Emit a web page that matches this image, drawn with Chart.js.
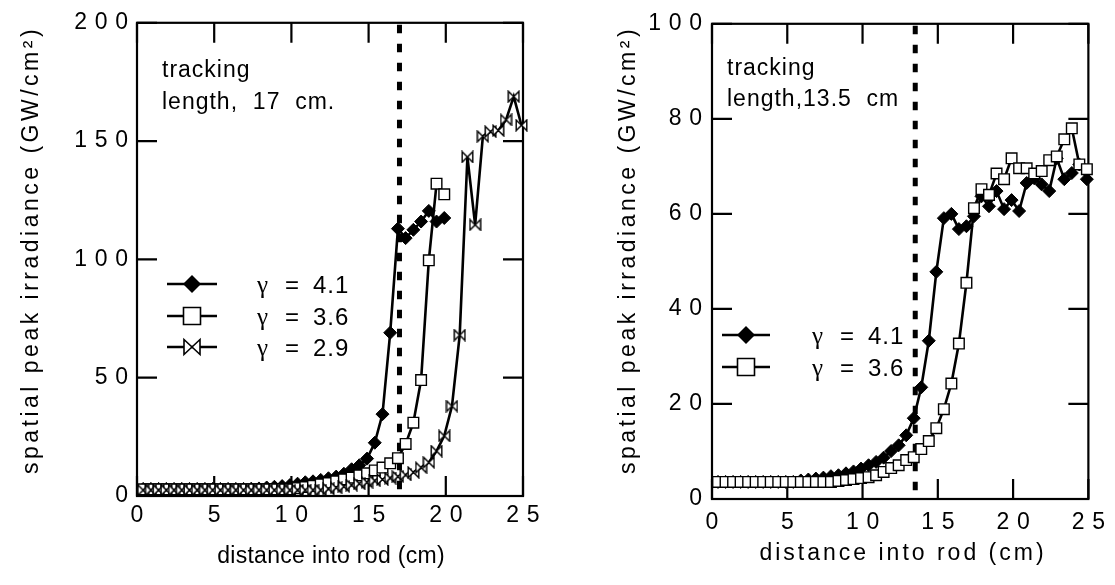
<!DOCTYPE html>
<html>
<head>
<meta charset="utf-8">
<script src="https://cdn.jsdelivr.net/npm/chart.js@4.4.1/dist/chart.umd.min.js"></script>
<style>
  html, body { margin: 0; padding: 0; background: #fff; }
  #wrap { position: relative; width: 1115px; height: 585px; overflow: hidden; }
  #cL { position: absolute; left: 0; top: 0; }
  #cR { position: absolute; left: 557px; top: 0; }
</style>
</head>
<body>
<div id="wrap">
  <canvas id="cL" width="557" height="585"></canvas>
  <canvas id="cR" width="558" height="585"></canvas>
</div>
<script>
// ---- data (distance in cm, irradiance in GW/cm^2) ----
const xTitleLabel = 'distance into rod (cm)';
const yTitleLabel = 'spatial peak irradiance (GW/cm\u00B2)';

// left panel: tracking length 17 cm
const leftX41 = [0.4,0.9,1.4,1.9,2.4,2.9,3.4,3.9,4.4,4.9,5.4,5.9,6.4,6.9,7.4,7.9,8.4,8.9,9.4,9.9,
  10.4,10.9,11.4,11.9,12.4,12.9,13.4,13.9,14.4,14.9,15.4,15.9,16.4,16.9,17.4,17.9,18.4,18.9,19.4,19.9];
const leftY41 = [3,3,3,3,3,3,3,3,3,3,3,3,3,3,3.1,3.2,3.6,3.9,4.2,4.6,
  5.2,5.8,6.2,6.8,7.5,8.2,9.4,11.3,13,15.8,22.5,34.6,69,113,109,112.5,116,120.5,116,117.5];

const leftX36 = [0.4,0.9,1.4,1.9,2.4,2.9,3.4,3.9,4.4,4.9,5.4,5.9,6.4,6.9,7.4,7.9,8.4,8.9,9.4,9.9,
  10.4,10.9,11.4,11.9,12.4,12.9,13.4,13.9,14.4,14.9,15.4,15.9,16.4,16.9,17.4,17.9,18.4,18.9,19.4,19.9];
const leftY36 = [2.8,2.8,2.8,2.8,2.8,2.8,2.8,2.8,2.8,2.8,2.8,2.8,2.8,2.8,2.8,2.8,2.8,2.8,2.8,2.8,
  3.3,3.8,4.3,4.9,5.5,6.2,7,7.8,8.7,9.6,10.8,12,13.8,16,22,31,49,99.6,132,127.5];

const leftX29 = [0.4,0.9,1.4,1.9,2.4,2.9,3.4,3.9,4.4,4.9,5.4,5.9,6.4,6.9,7.4,7.9,8.4,8.9,9.4,9.9,
  10.4,10.9,11.4,11.9,12.4,12.9,13.4,13.9,14.4,14.9,15.4,15.9,16.4,16.9,17.4,17.9,18.4,18.9,19.4,19.9,
  20.4,20.9,21.4,21.9,22.4,22.9,23.4,23.9,24.4,24.9];
const leftY29 = [2.5,2.5,2.5,2.5,2.5,2.5,2.5,2.5,2.5,2.5,2.5,2.5,2.5,2.5,2.5,2.5,2.5,2.5,2.5,2.5,
  2.5,2.5,2.5,2.5,3,3.5,4,4.6,5.2,5.8,6.4,7,7.6,8.2,8.9,10,12,14.2,19,25.4,
  38,68,143.3,114.6,152,154,154.5,159,168.8,156.7];

// right panel: tracking length 13.5 cm
const rightX41 = [0.4,0.9,1.4,1.9,2.4,2.9,3.4,3.9,4.4,4.9,5.4,5.9,6.4,6.9,7.4,7.9,8.4,8.9,9.4,9.9,
  10.4,10.9,11.4,11.9,12.4,12.9,13.4,13.9,14.4,14.9,15.4,15.9,16.4,16.9,17.4,17.9,18.4,18.9,19.4,19.9,
  20.4,20.9,21.4,21.9,22.4,22.9,23.4,23.9,24.4,24.9];
const rightY41 = [3.6,3.6,3.6,3.6,3.6,3.6,3.6,3.6,3.6,3.6,3.6,3.9,4.1,4.3,4.5,4.8,5.0,5.4,5.8,6.4,
  7.1,7.8,8.7,10.1,11.3,13.4,17,23.5,33.3,47.8,59.1,60,56.8,57.4,59.5,63.7,61.6,64.8,61,62.9,
  60.6,66.5,67.5,66.2,64.8,71.7,67.3,68.6,70.4,67.3];

const rightX36 = [0.4,0.9,1.4,1.9,2.4,2.9,3.4,3.9,4.4,4.9,5.4,5.9,6.4,6.9,7.4,7.9,8.4,8.9,9.4,9.9,
  10.4,10.9,11.4,11.9,12.4,12.9,13.4,13.9,14.4,14.9,15.4,15.9,16.4,16.9,17.4,17.9,18.4,18.9,19.4,19.9,
  20.4,20.9,21.4,21.9,22.4,22.9,23.4,23.9,24.4,24.9];
const rightY36 = [3.6,3.6,3.6,3.6,3.6,3.6,3.6,3.6,3.6,3.6,3.6,3.6,3.6,3.6,3.6,3.6,3.8,4.0,4.2,4.4,
  4.6,5.0,5.7,6.5,7.1,8.2,8.8,10.5,12.2,14.9,18.9,24.3,32.7,45.5,61.2,65.2,64,68.5,67.3,71.7,
  69.6,69.6,68.5,69,71.3,72.1,75.7,78,70.4,69.4];

const gammaLeft = ['4.1', '3.6', '2.9'];
const gammaRight = ['4.1', '3.6'];

const FONT = '"Liberation Sans", Arial, Helvetica, sans-serif';
const SERIF = '"Liberation Serif", "Times New Roman", serif';
Chart.defaults.font.family = FONT;
Chart.defaults.color = '#000';

// digits spread out like the original plot software
const spaced = v => String(v).split('').join('\u2004');
const pts = (xs, ys) => xs.map((x, i) => ({ x: x, y: ys[i] }));

function bowtieImage(size, lw) {
  const c = document.createElement('canvas');
  c.width = size; c.height = size;
  const g = c.getContext('2d');
  const m = lw / 2 + 0.5;
  g.beginPath();
  g.moveTo(m, m); g.lineTo(size - m, size - m); g.lineTo(size - m, m); g.lineTo(m, size - m);
  g.closePath();
  g.fillStyle = '#fff'; g.fill();
  g.strokeStyle = '#000'; g.lineWidth = lw; g.stroke();
  return c;
}
const bowtie = bowtieImage(13, 1.4);

function drawMarker(ctx, kind, cx, cy) {
  ctx.beginPath();
  if (kind === 'diamond') {
    const s = 9;
    ctx.moveTo(cx - s, cy); ctx.lineTo(cx, cy - s); ctx.lineTo(cx + s, cy); ctx.lineTo(cx, cy + s);
    ctx.closePath();
    ctx.fillStyle = '#000'; ctx.fill();
  } else if (kind === 'square') {
    const s = 8.5;
    ctx.rect(cx - s, cy - s, 2 * s, 2 * s);
    ctx.fillStyle = '#fff'; ctx.fill();
    ctx.lineWidth = 1.6; ctx.stroke();
  } else {
    const w = 8, h = 7.5;
    ctx.moveTo(cx - w, cy - h); ctx.lineTo(cx + w, cy + h); ctx.lineTo(cx + w, cy - h); ctx.lineTo(cx - w, cy + h);
    ctx.closePath();
    ctx.fillStyle = '#fff'; ctx.fill();
    ctx.lineWidth = 1.6; ctx.stroke();
  }
}

// frame, inner ticks on all sides, dashed tracking-length line, texts
const decor = {
  id: 'decor',
  beforeDatasetsDraw(chart, args, o) {
    const ctx = chart.ctx, a = chart.chartArea, x = chart.scales.x, y = chart.scales.y;
    ctx.save();
    ctx.strokeStyle = '#000';
    ctx.lineWidth = 5;
    ctx.setLineDash([8.5, 10.5]);
    const dx = x.getPixelForValue(o.dashAt);
    ctx.beginPath(); ctx.moveTo(dx, a.top + 2); ctx.lineTo(dx, a.bottom); ctx.stroke();
    ctx.setLineDash([]);

    ctx.lineWidth = 2.2;
    ctx.strokeRect(a.left, a.top, a.right - a.left, a.bottom - a.top);
    ctx.beginPath();
    x.ticks.forEach(t => {
      const px = x.getPixelForValue(t.value);
      ctx.moveTo(px, a.bottom); ctx.lineTo(px, a.bottom - 20);
      ctx.moveTo(px, a.top); ctx.lineTo(px, a.top + 20);
    });
    y.ticks.forEach(t => {
      const py = y.getPixelForValue(t.value);
      ctx.moveTo(a.left, py); ctx.lineTo(a.left + 20, py);
      ctx.moveTo(a.right, py); ctx.lineTo(a.right - 20, py);
    });
    ctx.stroke();
    ctx.restore();
  },
  afterDraw(chart, args, o) {
    const ctx = chart.ctx;
    ctx.save();
    ctx.fillStyle = '#000';
    ctx.strokeStyle = '#000';
    ctx.textBaseline = 'alphabetic';
    ctx.textAlign = 'left';

    ctx.letterSpacing = '1px';
    ctx.font = '23px ' + FONT;
    o.notes.forEach(n => ctx.fillText(n.text, n.x, n.y));

    // legend
    o.legend.forEach(l => {
      ctx.lineWidth = 2.6;
      ctx.beginPath(); ctx.moveTo(o.legX1, l.y); ctx.lineTo(o.legX2, l.y); ctx.stroke();
      drawMarker(ctx, l.kind, (o.legX1 + o.legX2) / 2, l.y);
      ctx.fillStyle = '#000';
      ctx.letterSpacing = '0px';
      ctx.font = '25px ' + SERIF;
      ctx.fillText('\u03B3', o.legTextX, l.y + 9);
      ctx.letterSpacing = '1px';
      ctx.font = '24px ' + FONT;
      ctx.fillText('=', o.legTextX + 28, l.y + 9);
      ctx.fillText(l.text, o.legTextX + 56, l.y + 9);
    });

    // axis titles
    ctx.letterSpacing = o.xTitle.ls;
    ctx.font = '23px ' + FONT;
    ctx.textAlign = 'center';
    ctx.fillText(xTitleLabel, o.xTitle.x, o.xTitle.y);
    ctx.translate(o.yTitle.x, o.yTitle.y);
    ctx.rotate(-Math.PI / 2);
    ctx.letterSpacing = '3.5px';
    ctx.fillText(yTitleLabel, 0, 0);
    ctx.restore();
  }
};

function lineSet(data, style, radius) {
  return {
    data: data,
    borderColor: '#000',
    borderWidth: 2.6,
    tension: 0,
    pointStyle: style,
    pointRadius: radius,
    pointBorderWidth: style === 'rect' ? 1.4 : 1,
    pointBorderColor: '#000',
    pointBackgroundColor: style === 'rect' ? '#fff' : '#000',
    clip: false
  };
}

function makeOptions(cfg) {
  return {
    responsive: false,
    animation: false,
    events: [],
    layout: { padding: { top: cfg.top, right: cfg.right, left: 0, bottom: 0 } },
    plugins: { legend: { display: false }, tooltip: { enabled: false }, decor: cfg },
    scales: {
      x: {
        type: 'linear', min: 0, max: 25,
        ticks: { stepSize: 5, padding: cfg.xPad, font: { size: 23 }, color: '#000', maxRotation: 0, autoSkip: false, callback: spaced },
        grid: { display: false, drawTicks: false },
        border: { display: false },
        afterFit: s => { s.height = cfg.xHeight; }
      },
      y: {
        type: 'linear', min: 0, max: cfg.yMax,
        ticks: { stepSize: cfg.yStep, padding: cfg.yPad, font: { size: 23 }, color: '#000', callback: spaced },
        grid: { display: false, drawTicks: false },
        border: { display: false },
        afterFit: s => { s.width = cfg.yWidth; }
      }
    }
  };
}

new Chart(document.getElementById('cL'), {
  type: 'line',
  data: {
    datasets: [
      lineSet(pts(leftX29, leftY29), bowtie, 6),
      lineSet(pts(leftX36, leftY36), 'rect', 7.5),
      lineSet(pts(leftX41, leftY41), 'rectRot', 6.5)
    ]
  },
  options: makeOptions({
    top: 16, right: 34, xHeight: 89, yWidth: 137, yMax: 200, yStep: 50, xPad: 6, yPad: 9,
    dashAt: 17,
    notes: [{ text: 'tracking', x: 162, y: 77 }, { text: 'length,  17  cm.', x: 162, y: 109 }],
    legX1: 167, legX2: 217, legTextX: 257,
    legend: [
      { kind: 'diamond', y: 284, text: gammaLeft[0] },
      { kind: 'square', y: 316, text: gammaLeft[1] },
      { kind: 'bowtie', y: 347, text: gammaLeft[2] }
    ],
    xTitle: { x: 331, y: 563, ls: '0.3px' },
    yTitle: { x: 38, y: 250 }
  }),
  plugins: [decor]
});

new Chart(document.getElementById('cR'), {
  type: 'line',
  data: {
    datasets: [
      lineSet(pts(rightX36, rightY36), 'rect', 7.5),
      lineSet(pts(rightX41, rightY41), 'rectRot', 6.5)
    ]
  },
  options: makeOptions({
    top: 22, right: 19, xHeight: 86, yWidth: 155, yMax: 100, yStep: 20, xPad: 10, yPad: 10,
    dashAt: 13.5,
    notes: [{ text: 'tracking', x: 170, y: 75 }, { text: 'length,13.5  cm', x: 170, y: 106 }],
    legX1: 165, legX2: 213, legTextX: 255,
    legend: [
      { kind: 'diamond', y: 335, text: gammaRight[0] },
      { kind: 'square', y: 367, text: gammaRight[1] }
    ],
    xTitle: { x: 346, y: 560, ls: '3px' },
    yTitle: { x: 78, y: 250 }
  }),
  plugins: [decor]
});
</script>
</body>
</html>
